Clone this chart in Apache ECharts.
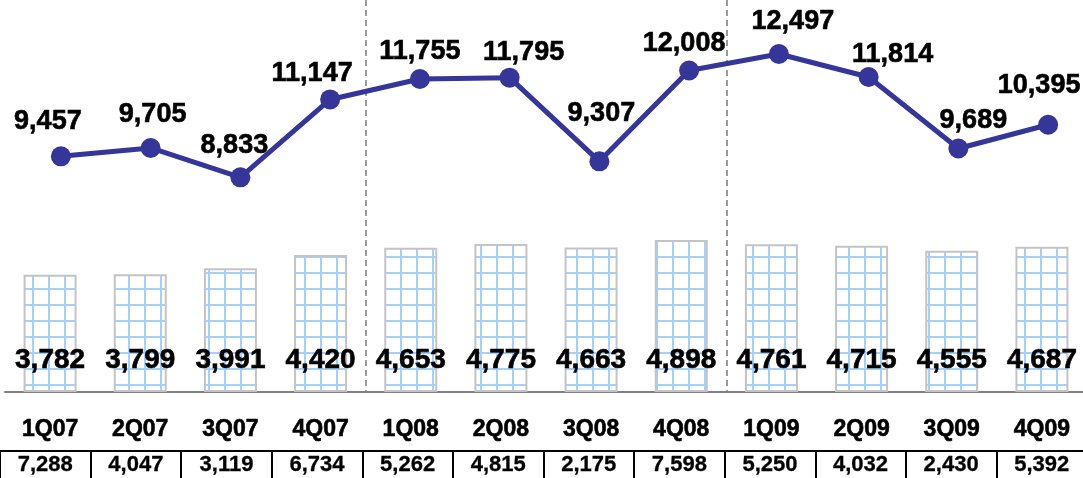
<!DOCTYPE html>
<html>
<head>
<meta charset="utf-8">
<script src="https://cdn.jsdelivr.net/npm/echarts@6/dist/echarts.min.js"></script>
<style>
  html, body { margin: 0; padding: 0; background: #fff; }
  #chart { width: 1083px; height: 478px; }
</style>
</head>
<body>
<div id="chart"></div>
<script>
// quarters on the x axis
var quarters = ['1Q07', '2Q07', '3Q07', '4Q07', '1Q08', '2Q08', '3Q08', '4Q08', '1Q09', '2Q09', '3Q09', '4Q09'];
// line values (top)
var lineValues = [9457, 9705, 8833, 11147, 11755, 11795, 9307, 12008, 12497, 11814, 9689, 10395];
// bar values (bottom)
var barValues = [3782, 3799, 3991, 4420, 4653, 4775, 4663, 4898, 4761, 4715, 4555, 4687];
// table row under the axis
var tableValues = [7288, 4047, 3119, 6734, 5262, 4815, 2175, 7598, 5250, 4032, 2430, 5392];

// hand nudges of the line labels (the original places them by hand)
var lineLabelNudge = [[-13, 0], [2, 1], [-6, 3], [-18, 9], [0, 7], [14, 9], [2, -13], [-5, 8], [14, 2], [24, 12], [15, 7], [-9, -5]];

var FONT = "'Liberation Sans', Arial, sans-serif";

function fmt(v) { return Number(v).toLocaleString('en-US'); }

// light blue grid fill for the bars
function gridPattern() {
  var c = document.createElement('canvas');
  c.width = 16; c.height = 16;
  var g = c.getContext('2d');
  g.fillStyle = '#ffffff';
  g.fillRect(0, 0, 16, 16);
  g.fillStyle = '#a3d0ff';
  g.fillRect(0, 0, 16, 2);
  g.fillRect(0, 0, 2, 16);
  return c;
}

// heavier bold text, like the original
var heavy = { color: '#000', fontWeight: 'bold', fontFamily: FONT, textBorderColor: '#000', textBorderWidth: 0.6 };

var lineData = lineValues.map(function (v, i) {
  return { value: v, label: { offset: lineLabelNudge[i] } };
});

var myChart = echarts.init(document.getElementById('chart'));
myChart.setOption({
  animation: false,
  textStyle: { fontFamily: FONT },
  grid: [
    { left: 5, top: 0, width: 1082, height: 392, outerBoundsMode: 'none' },   // bars
    { left: 16, top: 0, width: 1077, height: 392, outerBoundsMode: 'none' },  // line
    { left: 0, top: 451, width: 1087, height: 30, outerBoundsMode: 'none' }   // table
  ],
  xAxis: [
    {
      type: 'category', gridIndex: 0, data: quarters,
      axisLine: { lineStyle: { color: '#808080', width: 2 } },
      axisTick: { show: false },
      axisLabel: Object.assign({ fontSize: 23, margin: 26 }, heavy),
      splitLine: {
        show: true,
        interval: function (index) { return index === 4 || index === 8; },
        lineStyle: { color: '#9a9a9a', width: 2, type: [6, 4] }
      }
    },
    { type: 'category', gridIndex: 1, data: quarters, show: false },
    {
      type: 'category', gridIndex: 2, position: 'top',
      data: tableValues.map(fmt),
      axisLine: { onZero: false, lineStyle: { color: '#000', width: 2 } },
      axisTick: { show: false },
      axisLabel: Object.assign({ inside: true, fontSize: 22, margin: 3 }, heavy, { textBorderWidth: 0.3 }),
      splitLine: { show: true, interval: 0, lineStyle: { color: '#000', width: 2 } }
    }
  ],
  yAxis: [
    { type: 'value', gridIndex: 0, min: 0, max: 12642, show: false },
    { type: 'value', gridIndex: 1, min: 2453, max: 14102, show: false },
    { type: 'value', gridIndex: 2, min: 0, max: 1, show: false }
  ],
  series: [
    {
      name: 'bars', type: 'bar', xAxisIndex: 0, yAxisIndex: 0,
      data: barValues,
      barWidth: 53,
      itemStyle: {
        color: { image: gridPattern(), repeat: 'repeat' },
        borderColor: '#c4c4c4', borderWidth: 2
      },
      label: Object.assign({
        show: true, position: 'insideBottom', distance: 18, fontSize: 28,
        formatter: function (p) { return fmt(p.value); }
      }, heavy),
      z: 2
    },
    {
      name: 'line', type: 'line', xAxisIndex: 1, yAxisIndex: 1,
      data: lineData,
      symbol: 'circle', symbolSize: 20,
      lineStyle: { color: '#35359a', width: 5 },
      itemStyle: { color: '#35359a' },
      label: Object.assign({
        show: true, position: 'top', distance: 11, fontSize: 27,
        formatter: function (p) { return fmt(p.value); }
      }, heavy),
      z: 5
    }
  ]
});
</script>
</body>
</html>
